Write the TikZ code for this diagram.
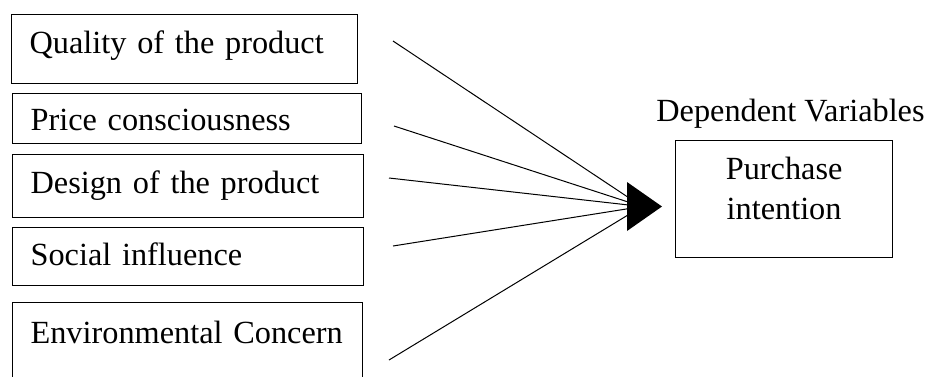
\documentclass[tikz,border=0pt]{standalone}
\usepackage{fontspec}
\setmainfont{Liberation Serif}
\begin{document}
\begin{tikzpicture}[x=1pt,y=-1pt,
  every node/.style={font=\fontsize{32.3}{40}\selectfont},
  factor/.style={draw, line width=1.2pt, anchor=north west, inner xsep=18pt, inner ysep=0pt, align=left},
  target/.style={draw, line width=1.2pt, anchor=north west, inner sep=0pt, align=center, text width=217pt}]
\useasboundingbox (0,0) rectangle (930,376);
\clip (0,0) rectangle (930,376);

\node[factor, text width=310pt, text height=39pt, text depth=30pt] (quality) at (11,14) {Quality of the product};
\node[factor, text width=313pt, text height=37pt, text depth=13pt] (price) at (12,93) {Price consciousness};
\node[factor, text width=315pt, text height=39pt, text depth=24pt] (design) at (12,154) {Design of the product};
\node[factor, text width=315pt, text height=38pt, text depth=20pt] (social) at (12,227) {Social influence};
\node[factor, text width=314pt, text height=41pt, text depth=40pt] (environment) at (12,302) {Environmental Concern};

\node[anchor=base] (dependent) at (790.5,121) {Dependent Variables};
\node[target, text height=39pt, text depth=78pt] (purchase) at (675,140) {Purchase\\intention};

\coordinate (s1) at (393,41);
\coordinate (s2) at (394,126);
\coordinate (s3) at (389,178);
\coordinate (s4) at (393,246);
\coordinate (s5) at (389,360);
\coordinate (hub) at (642,206.5);
\draw[line width=1pt] (s1) -- (hub);
\draw[line width=1pt] (s2) -- (hub);
\draw[line width=1pt] (s3) -- (hub);
\draw[line width=1pt] (s4) -- (hub);
\draw[line width=1pt] (s5) -- (hub);
\fill (627,182) -- (662,206.5) -- (627,231) -- cycle;
\end{tikzpicture}
\end{document}
